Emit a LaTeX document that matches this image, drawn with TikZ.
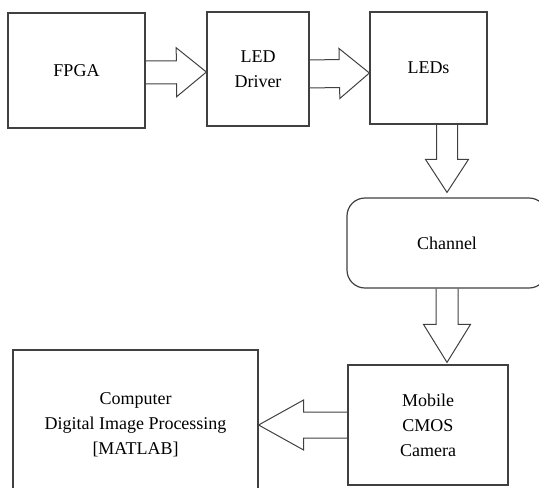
\documentclass[tikz,border=0pt]{standalone}
\usepackage{fontspec}
\setmainfont{Liberation Serif}
\usetikzlibrary{calc}
\tikzset{blk/.style = {draw=black!75, line width=1.2pt, align=center, inner sep=0pt,
    font=\fontsize{18}{25}\selectfont},
  fat/.style = {draw=black!75, line width=1pt, line join=miter}}

% hollow block arrow from #1 to #2 (sizes in pt)
% #3 = half width of the shaft, #4 = half width of the head, #5 = head length
\newcommand\fatarrow[5]{
  \coordinate (neck) at ($(#2)!#5pt!(#1)$);
  \draw[fat] ($(#1)!#3pt!90:(#2)$) -- ($(neck)!#3pt!90:(#2)$) -- ($(neck)!#4pt!90:(#2)$) -- (#2)
    -- ($(neck)!#4pt!-90:(#2)$) -- ($(neck)!#3pt!-90:(#2)$) -- ($(#1)!#3pt!-90:(#2)$);
}

\begin{document}
\begin{tikzpicture}[x=1pt, y=-1pt]
  \useasboundingbox (0,0) rectangle (539,488);
  \clip (0,0) rectangle (539,488);

  \node[blk, minimum width=137, minimum height=115] (fpga) at (76.5,70.5) {FPGA};
  \node[blk, minimum width=102, minimum height=114] (drv) at (258,69) {LED\\Driver};
  \node[blk, minimum width=117, minimum height=112] (leds) at (428.5,68) {LEDs};
  \node[blk, rounded corners=18pt, minimum width=200, minimum height=90] (chan) at (447,243) {Channel};
  \node[blk, minimum width=160, minimum height=120] (cam) at (428,425) {Mobile\\CMOS\\Camera};
  \node[blk, minimum width=245, minimum height=150] (comp) at (135.5,425)
    {Computer\\Digital Image Processing\\{[MATLAB]}};

  % arrow end points
  \coordinate (fpgaout) at ($(fpga.east)+(0,2)$);
  \coordinate (drvin) at ($(drv.west)+(0,3)$);
  \coordinate (drvout) at ($(drv.east)+(0,5)$);
  \coordinate (ledsin) at ($(leds.west)+(0,5)$);
  \coordinate (ledsout) at (leds.south -| chan.north);
  \coordinate (chanin) at ($(chan.north)+(0,-5)$);
  \coordinate (camin) at ($(cam.north -| chan.south)+(0,-2)$);

  \fatarrow{fpgaout}{drvin}{11.5}{24.5}{30}
  \fatarrow{drvout}{ledsin}{14}{25}{30}
  \fatarrow{ledsout}{chanin}{10.5}{21.5}{33}
  \fatarrow{chan.south}{camin}{11}{23.5}{38}
  \fatarrow{cam.west}{comp.east}{13}{25}{45}
\end{tikzpicture}
\end{document}
